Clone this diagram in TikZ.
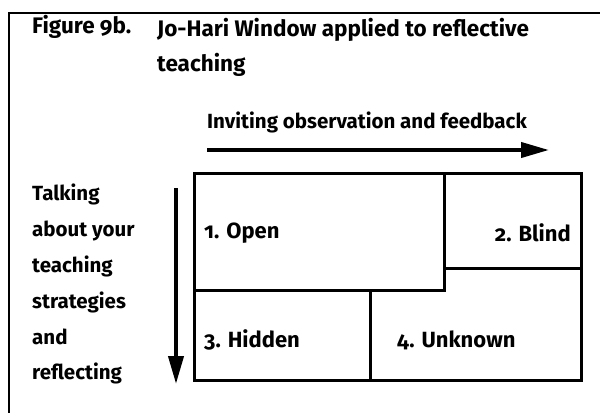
\documentclass[tikz,border=0pt]{standalone}
\usepackage{fontspec}
\setmainfont{Fira Sans}[Numbers=OldStyle]
\usetikzlibrary{arrows.meta}
\begin{document}
\begin{tikzpicture}[x=1pt,y=-1pt,
  frameline/.style={line width=2pt},
  paneline/.style={line width=3pt, line join=miter},
  bigarrow/.style={line width=4pt, -{Triangle[length=28pt,width=15pt]}},
  label/.style={font=\fontsize{20.5}{35.8}\selectfont\bfseries, inner sep=0pt},
  caption/.style={font=\fontsize{22.5}{35}\selectfont\bfseries, inner sep=0pt},
  pane/.style={font=\fontsize{22}{26}\selectfont\bfseries, inner sep=0pt},
]
\useasboundingbox (0,0) rectangle (600,413);
% open frame: top and left edges only
\draw[frameline] (600,13) -- (9,13) -- (9,413);

% caption
\node[caption, anchor=west] (fig) at (32,27) {Figure 9b.};
\node[caption, anchor=north west, align=left] (title) at (157,18)
  {Jo-Hari Window applied to reflective\\teaching};

% horizontal axis
\node[label, anchor=west] (htext) at (207,122) {Inviting observation and feedback};
\coordinate (hs) at (207,150);
\coordinate (he) at (549,150);
\draw[bigarrow] (hs) -- (he);

% vertical axis
\node[label, anchor=north west, align=left] (vtext) at (32,184)
  {Talking\\about your\\teaching\\strategies\\and\\reflecting};
\coordinate (vs) at (176,188);
\coordinate (ve) at (176,384);
\draw[bigarrow] (vs) -- (ve);

% window panes
\draw[paneline] (194,173) rectangle (581,380);
\draw[paneline] (444,173) -- (444,290) -- (194,290);
\draw[paneline] (444,268) -- (581,268);
\draw[paneline] (370,290) -- (370,380);

\node[pane, anchor=west] (open) at (204,233) {1. Open};
\node[pane, anchor=east] (blind) at (571,233) {2. Blind};
\node[pane, anchor=west] (hidden) at (204,340) {3. Hidden};
\node[pane, anchor=west] (unknown) at (397,340) {4. Unknown};
\end{tikzpicture}
\end{document}
